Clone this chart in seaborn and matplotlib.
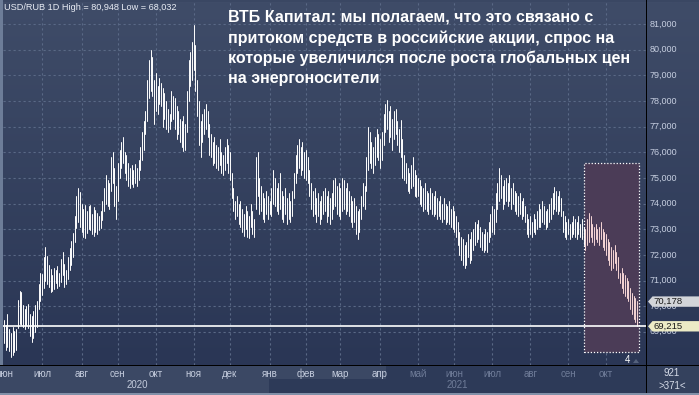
import numpy as np
import pandas as pd
import matplotlib
matplotlib.use("Agg")
import matplotlib.pyplot as plt
import seaborn as sns
from matplotlib.colors import LinearSegmentedColormap
from matplotlib.patches import Rectangle, Polygon
from matplotlib.transforms import blended_transform_factory

# ---------------- data (USD/RUB daily bars, Jun 2020 - Oct 2021) ----------------
highs = [
    69.45, 69.25, 69.70, 69.10, 68.95, 69.20, 69.05, 69.10,
    70.25, 70.60, 70.55,
    70.05, 69.90, 70.00, 70.10, 69.70, 69.60, 69.80, 70.05, 70.20,
    70.85, 71.30, 71.25,
    71.90, 72.30, 71.95, 71.60, 71.45, 71.20, 71.50, 71.40, 71.55, 71.30, 71.85, 72.10, 71.65, 71.40,
    71.90, 72.25, 72.55, 72.85,
    73.50, 74.30, 74.60, 74.45,
    74.00, 73.80, 73.95, 73.70, 73.90, 73.95, 73.60, 73.85, 73.75, 73.65, 73.50, 73.70,
    74.10, 74.60, 75.10, 74.90, 74.80,
    75.80, 76.00, 75.40, 74.70, 75.60,
    76.10, 76.40, 76.60, 76.00, 75.90,
    75.60, 75.40, 75.50, 75.30, 75.55, 75.40, 75.70,
    76.20, 76.80, 77.20, 77.60,
    78.80, 79.60, 80.00, 79.70,
    78.80, 79.10, 78.60, 78.90, 78.70,
    78.50, 78.30, 78.00,
    77.70, 77.50, 78.40, 78.20, 78.10, 77.80, 77.60, 77.30, 77.20, 77.40, 77.10,
    78.40, 79.60, 79.90, 80.30, 80.948, 80.20,
    78.80, 78.00, 77.20, 77.50, 77.70, 77.90, 77.60, 77.10,
    76.70, 76.40, 76.60, 76.30, 76.20, 76.50, 76.00, 75.90, 76.20, 76.50, 76.30, 76.00,
    75.20, 74.60, 74.10, 74.30, 74.00,
    74.10, 73.80, 73.60, 73.90, 73.70, 73.50, 74.00, 73.70, 73.40,
    75.80, 76.00, 75.00,
    74.70, 74.40, 74.20, 74.50, 74.30, 74.10, 74.60, 75.30, 75.00, 74.60, 74.80, 75.20, 74.50, 74.30, 74.60, 74.20, 74.40, 74.10, 74.50,
    75.20, 75.90, 76.30, 76.50, 76.20, 76.40, 76.00, 76.10, 75.80,
    75.30, 74.80, 74.50, 74.60, 74.20, 74.40, 74.10, 74.30, 74.50,
    74.60, 74.30, 74.50, 74.20, 74.40,
    74.90, 75.00, 74.70, 74.80, 74.60, 75.00, 74.90, 74.60, 74.80, 74.50, 74.30, 74.10, 74.20,
    73.90, 73.70, 73.80,
    74.30, 74.80, 74.70,
    75.80, 77.00, 76.80, 76.40, 76.20, 76.60, 76.90, 76.70, 76.50, 76.80,
    77.50, 77.90, 78.04, 77.60, 77.80, 77.30, 77.60, 77.70, 77.20, 76.90,
    77.25, 76.50, 75.90, 75.60,
    75.40, 75.20, 75.50, 75.80, 75.30, 75.10, 75.00,
    74.90, 74.70, 74.60, 74.80, 74.50, 74.40, 74.60, 74.40, 74.30, 74.50, 74.20, 74.10, 74.30, 74.00, 74.20, 74.00, 73.90, 74.10, 73.80, 73.90, 73.70, 73.50, 73.30,
    72.90, 72.70, 72.60, 72.40, 72.50, 72.80, 72.60, 72.90,
    73.00, 73.30, 73.20, 73.35, 73.10, 72.90, 72.80,
    73.00, 72.90,
    73.30, 73.60, 73.90, 73.80, 74.40,
    74.80, 75.40, 75.10, 74.70, 74.90, 75.00, 74.80, 75.10, 74.60, 74.80, 74.50, 74.40,
    74.30, 74.40, 74.10, 74.20, 73.90,
    73.60, 73.40, 73.50, 73.30, 73.60, 73.40,
    73.70, 74.00, 73.80, 74.10, 73.90, 73.70, 73.80, 74.00, 74.20, 74.40,
    74.65, 74.50, 74.30, 74.50, 74.20,
    73.70, 73.50, 73.30, 73.40, 73.20, 73.30,
    73.50, 73.40, 73.30, 73.50, 73.20, 73.40, 73.10,
    73.00, 73.40, 73.65, 73.50, 73.20, 73.10, 73.20, 73.00, 73.10, 73.30, 73.00, 72.90,
    72.80, 72.60, 72.50, 72.30, 72.20, 72.40, 72.10, 71.90,
    71.30, 71.50, 71.30, 71.20, 71.10, 71.00, 70.70, 70.50, 70.40, 70.30, 70.20,
]
lows = [
    68.55, 68.30, 68.40, 68.25, 68.032, 68.10, 68.20, 68.30,
    69.15, 69.30, 69.25,
    69.20, 69.10, 69.25, 69.15, 68.85, 68.60, 68.75, 69.00, 69.20,
    69.90, 70.20, 70.45,
    70.70, 71.00, 70.85, 70.75, 70.55, 70.60, 70.65, 70.90, 70.70, 70.80, 70.95, 71.20, 70.75, 70.85,
    71.05, 71.40, 71.60, 71.90,
    72.50, 73.05, 73.30, 73.10,
    72.90, 72.70, 72.65, 72.85, 73.00, 72.95, 72.80, 72.75, 72.90, 72.80, 72.95, 73.05,
    73.35, 73.70, 74.00, 73.90, 73.80,
    74.50, 74.80, 73.90, 73.40, 74.10,
    75.00, 75.40, 75.60, 75.20, 74.90,
    74.70, 74.60, 74.75, 74.65, 74.80, 74.70, 74.90,
    75.30, 75.70, 76.10, 76.70,
    77.20, 78.10, 78.40, 78.20,
    77.10, 77.60, 77.50, 77.90, 77.80,
    77.00, 77.30, 76.90,
    76.80, 76.90, 77.20, 77.30, 76.90, 76.50, 76.70, 76.40, 76.20, 76.05, 76.10,
    76.80, 78.00, 78.60, 78.80, 79.20, 78.40,
    77.40, 76.30, 75.80, 76.40, 76.70, 76.90, 76.60, 75.90,
    75.80, 75.50, 75.60, 75.40, 75.30, 75.50, 75.20, 75.10, 75.30, 75.60, 75.20, 74.90,
    74.20, 73.70, 73.40, 73.50, 73.20,
    73.10, 72.90, 72.75, 73.00, 72.70, 72.65, 73.10, 72.80, 72.70,
    73.80, 74.30, 73.60,
    73.70, 73.40, 73.30, 73.60, 73.40, 73.60, 73.50, 74.00, 73.90, 73.70, 73.60, 73.80, 73.40, 73.30, 73.60, 73.20, 73.40, 73.30, 73.50,
    74.20, 74.80, 75.20, 75.40, 75.10, 75.30, 75.00, 74.90, 74.80,
    74.30, 73.80, 73.50, 73.60, 73.30, 73.50, 73.20, 73.40, 73.60,
    73.70, 73.30, 73.50, 73.20, 73.40,
    73.80, 73.90, 73.60, 73.50, 73.40, 73.70, 73.80, 73.60, 73.70, 73.50, 73.30, 73.10, 73.30,
    72.80, 72.60, 72.90,
    73.40, 73.90, 73.80,
    74.50, 75.30, 75.60, 75.40, 75.20, 75.50, 75.80, 75.70, 75.40, 75.70,
    76.30, 76.80, 76.90, 76.40, 76.60, 76.10, 76.50, 76.70, 76.30, 76.00,
    75.80, 75.00, 74.90, 74.80,
    74.50, 74.40, 74.60, 74.70, 74.30, 74.25, 74.30,
    74.00, 73.90, 73.70, 73.80, 73.70, 73.60, 73.80, 73.60, 73.50, 73.60, 73.40, 73.50, 73.40, 73.30, 73.40, 73.20, 73.30, 73.20, 73.10, 73.00, 72.90, 72.70, 72.40,
    72.00, 71.80, 71.60, 71.50, 71.60, 71.90, 71.70, 71.80,
    72.20, 72.40, 72.50, 72.60, 72.30, 72.20, 72.10,
    72.20, 72.10,
    72.50, 72.70, 72.90, 72.80, 73.30,
    73.80, 74.10, 74.20, 73.80, 74.00, 74.10, 73.90, 74.10, 73.80, 74.00, 73.70, 73.60,
    73.50, 73.60, 73.40, 73.50, 73.30,
    72.80, 72.70, 72.80, 72.70, 72.90, 72.80,
    73.00, 73.10, 73.10, 73.30, 73.20, 73.00, 73.10, 73.30, 73.40, 73.60,
    73.80, 73.70, 73.60, 73.70, 73.50,
    72.90, 72.70, 72.60, 72.80, 72.60, 72.70,
    72.80, 72.70, 72.60, 72.80, 72.70, 72.60, 72.40,
    72.20, 72.40, 72.50, 72.70, 72.50, 72.40, 72.60, 72.50, 72.40, 72.60, 72.30, 72.20,
    72.00, 71.80, 71.60, 71.40, 71.50, 71.70, 71.40, 71.10,
    70.90, 70.70, 70.50, 70.40, 70.30, 70.20, 69.90, 69.70, 69.50, 69.40, 69.215,
]

month_labels = ["июн", "июл", "авг", "сен", "окт", "ноя", "дек", "янв", "фев",
                "мар", "апр", "май", "июн", "июл", "авг", "сен", "окт"]
month_starts = [0, 22, 45, 66, 88, 110, 131, 154, 175, 195, 218, 240, 261, 283, 305, 327, 349]
year_labels = ["2020", "2021"]
ytick_values = [69, 70, 71, 72, 73, 74, 75, 76, 77, 78, 79, 80, 81]
price_marks = [70.178, 69.215]
current_price = 69.215
box_start_bar = 337
box_range = (336.2, 368.1)
box_levels = (68.21, 75.58)

title_text = "USD/RUB 1D High = 80,948 Low = 68,032"
note_text = ("ВТБ Капитал: мы полагаем, что это связано с\n"
             "притоком средств в российские акции, спрос на\n"
             "которые увеличился после роста глобальных цен\n"
             "на энергоносители")

# ---------------- style ----------------
sns.set_theme(style="dark")
plt.rcParams["font.family"] = ["Liberation Sans", "DejaVu Sans"]

W, H = 699, 395
fig = plt.figure(figsize=(W / 100, H / 100), dpi=100, facecolor="#3a4763")


def fx(px):
    return px / W


def fy(py):
    return 1 - py / H


YMIN, YMAX = 67.706, 81.858
XMIN, XMAX = -0.58, 372.17

bg_cmap = LinearSegmentedColormap.from_list("bg", ["#3f4c68", "#2a3655"])
grad = np.linspace(0, 1, 256)[:, None]

ax = fig.add_axes([fx(3), fy(365), fx(646) - fx(3), fy(2) - fy(365)])
ax.imshow(grad, cmap=bg_cmap, extent=(XMIN, XMAX, YMIN, YMAX), aspect="auto",
          origin="upper", zorder=0)
ax.set_xlim(XMIN, XMAX)
ax.set_ylim(YMIN, YMAX)
for s in ax.spines.values():
    s.set_visible(False)
ax.set_xticks([])
ax.set_yticks([])

grid_kw = dict(color="#5a6986", lw=0.8, linestyles=(0, (2, 2.5)), zorder=1)
ax.hlines(ytick_values, XMIN, XMAX, **grid_kw)
ax.vlines(month_starts[1:], YMIN, YMAX, **grid_kw)

# highlighted box
ax.add_patch(Rectangle((box_range[0], box_levels[0]), box_range[1] - box_range[0],
                       box_levels[1] - box_levels[0], facecolor="#4b3c57",
                       edgecolor="white", lw=0.9, ls=(0, (1, 1.5)), zorder=1.5))

# bars via seaborn
n = len(highs)
idx = np.arange(n)
df = pd.DataFrame({
    "idx": np.repeat(idx, 2),
    "price": np.column_stack([lows, highs]).ravel(),
    "bar": np.repeat(idx, 2),
})
df["zone"] = np.where(df["idx"] >= box_start_bar, "box", "main")
sns.lineplot(data=df, x="idx", y="price", units="bar", estimator=None, hue="zone",
             palette={"main": "#ffffff", "box": "#f7d6d6"}, linewidth=0.7,
             legend=False, ax=ax, sort=False)
for ln in ax.lines:
    ln.set_zorder(3)
ax.set_xlim(XMIN, XMAX)
ax.set_ylim(YMIN, YMAX)
ax.set_xlabel("")
ax.set_ylabel("")
ax.axhline(current_price, color="white", lw=1.2, zorder=4)

# ---------------- right price panel ----------------
ax2 = fig.add_axes([fx(646), fy(365), fx(699) - fx(646), fy(2) - fy(365)])
ax2.imshow(grad, cmap=bg_cmap, extent=(0, 53, YMIN, YMAX), aspect="auto",
           origin="upper", zorder=0)
ax2.set_xlim(0, 53)
ax2.set_ylim(YMIN, YMAX)
ax2.set_xticks([])
ax2.set_yticks([])
for s in ax2.spines.values():
    s.set_visible(False)
for v in ytick_values:
    ax2.text(3.3, v, f"{v:.3f}".replace(".", ","), ha="left", va="center",
             fontsize=6.5, color="#c6cee0", zorder=2)
hh = 5.2 / 25.65
for v, fc in zip(price_marks, ["#d3d5d9", "#ecebc6"]):
    ax2.add_patch(Polygon([(2, v), (6.5, v + hh), (53, v + hh), (53, v - hh), (6.5, v - hh)],
                          closed=True, facecolor=fc, edgecolor="none", zorder=3))
    ax2.text(7, v, f"{v:.3f}".replace(".", ","), ha="left", va="center",
             fontsize=6.8, color="#1a1a1a", zorder=4)

# ---------------- frame pieces ----------------
def frect(x0, y0, x1, y1, color, z=0):
    fig.patches.append(Rectangle((fx(x0), fy(y1)), fx(x1) - fx(x0), fy(y0) - fy(y1),
                                 transform=fig.transFigure, facecolor=color,
                                 edgecolor="none", zorder=z))

frect(0, 365, 699, 395, "#3b4864", z=1)
frect(269, 379, 646, 393, "#2d3a58", z=2)
frect(386, 366, 646, 393, "#2d3a58", z=2)
frect(646, 366, 699, 393, "#34415d", z=2)
frect(0, 393, 699, 395, "#8190a8", z=3)
frect(0, 0, 3, 365, "#6d7d98", z=3)
frect(0, 364.5, 699, 366, "#000000", z=4)
frect(645.5, 0, 646.8, 393, "#000000", z=4)

# month and year labels (figure-level so they sit above the strip)
tr = blended_transform_factory(ax.transData, fig.transFigure)
for lab, pos in zip(month_labels, month_starts):
    col = "#c3cbdc" if pos <= 218 else "#6f7c98"
    fig.text(pos, fy(374), lab, transform=tr, ha="center", va="center",
             fontsize=7, color=col, zorder=6)
fig.text(fx(137), fy(385), year_labels[0], ha="center", va="center", fontsize=7,
         color="#c3cbdc", zorder=6)
fig.text(fx(457), fy(385), year_labels[1], ha="center", va="center", fontsize=7,
         color="#6f7c98", zorder=6)

# bottom-right counters
fig.text(fx(672), fy(373), "921", ha="center", va="center", fontsize=7,
         color="#d5dbe8", zorder=6)
frect(660, 378.5, 685, 379.3, "#8d99b0", z=5)
fig.text(fx(672), fy(386), ">371<", ha="center", va="center", fontsize=7,
         color="#d5dbe8", zorder=6)
fig.text(fx(627.5), fy(360), "4", ha="center", va="center", fontsize=7,
         color="#ffffff", zorder=6)
fig.patches.append(Polygon([(fx(633), fy(363)), (fx(639), fy(363)), (fx(636), fy(359))],
                           closed=True, transform=fig.transFigure,
                           facecolor="#55627d", edgecolor="none", zorder=6))

# texts
fig.text(fx(4), fy(8), title_text, ha="left", va="center", fontsize=6.6,
         color="#e9edf5", zorder=7)
fig.text(fx(228), fy(10), note_text, ha="left", va="top", fontsize=11.5,
         fontweight="bold", color="#ffffff", linespacing=1.42, zorder=7)

fig.savefig("out.png", dpi=100, facecolor=fig.get_facecolor())
